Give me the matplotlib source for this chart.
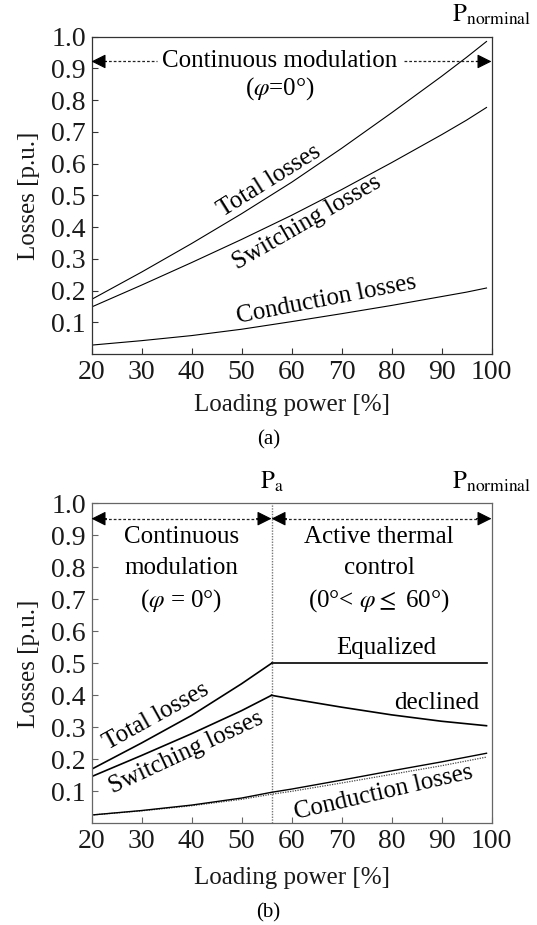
import matplotlib
matplotlib.use("Agg")
import matplotlib.pyplot as plt

plt.rcParams['font.family'] = ['Liberation Serif', 'DejaVu Serif']
plt.rcParams['mathtext.fontset'] = 'stix'

# (a) continuous modulation
load_a = [20, 30, 40, 50, 60, 70, 80, 90, 95, 99]
total_a = [0.172, 0.258, 0.348, 0.442, 0.541, 0.648, 0.760, 0.875, 0.935, 0.985]
switch_a = [0.148, 0.217, 0.288, 0.361, 0.437, 0.518, 0.603, 0.691, 0.737, 0.777]
cond_a = [0.028, 0.042, 0.058, 0.078, 0.102, 0.127, 0.153, 0.181, 0.195, 0.208]

# (b) with active thermal control above Pa
p_a = 56
load_b1 = [20, 30, 40, 50, 56]
total_b1 = [0.169, 0.251, 0.337, 0.436, 0.500]
switch_b1 = [0.146, 0.212, 0.280, 0.352, 0.400]
load_b2 = [56, 60, 70, 80, 90, 99]
total_b2 = [0.500, 0.500, 0.500, 0.500, 0.500, 0.500]
switch_b2 = [0.400, 0.389, 0.363, 0.339, 0.319, 0.305]
load_bc = [20, 30, 40, 50, 56, 60, 70, 80, 90, 99]
cond_b = [0.026, 0.040, 0.057, 0.079, 0.097, 0.107, 0.135, 0.164, 0.192, 0.219]
cond_b_ref = [0.026, 0.039, 0.055, 0.075, 0.091, 0.100, 0.126, 0.153, 0.180, 0.207]

xticks = [20, 30, 40, 50, 60, 70, 80, 90, 100]
yticks = [0.1, 0.2, 0.3, 0.4, 0.5, 0.6, 0.7, 0.8, 0.9, 1.0]

TICK_FS = 20
LAB_FS = 18
TXT_FS = 18

fig = plt.figure(figsize=(5.37, 9.25), dpi=100)
ax1 = fig.add_axes([0.1704, 0.6173, 0.7449, 0.343])
ax2 = fig.add_axes([0.1704, 0.1099, 0.7449, 0.346])


def style_axes(ax, spine_col, xlab_y):
    ax.set_xlim(20, 100)
    ax.set_ylim(0, 1.0)
    ax.set_xticks(xticks)
    ax.set_yticks(yticks)
    ax.set_yticklabels(['%.1f' % v for v in yticks])
    ax.tick_params(direction='in', length=4, width=0.8, colors=spine_col,
                   labelcolor='#1a1a1a', labelsize=TICK_FS, pad=4)
    for s in ax.spines.values():
        s.set_color(spine_col)
        s.set_linewidth(0.9)
    ax.set_xlabel('Loading power [%]', fontsize=LAB_FS, color='#1a1a1a')
    ax.set_ylabel('Losses [p.u.]', fontsize=LAB_FS, color='#1a1a1a')
    ax.xaxis.set_label_coords(0.5, xlab_y)
    ax.yaxis.set_label_coords(-0.128, 0.5)


def arrow_head(ax, x_tip, x_from, y):
    ax.annotate('', xy=(x_tip, y), xytext=(x_from, y),
                arrowprops=dict(arrowstyle='-|>', mutation_scale=22, color='k', lw=0.8,
                                shrinkA=0, shrinkB=0))


dash = (0, (2.2, 1.6))

# ---- panel (a)
style_axes(ax1, '#333333', -0.125)
ax1.plot(load_a, total_a, color='k', lw=0.8)
ax1.plot(load_a, switch_a, color='k', lw=0.8)
ax1.plot(load_a, cond_a, color='k', lw=0.8)

y_arr = 0.922
ax1.plot([21.5, 33.0], [y_arr, y_arr], color='#222222', lw=0.9, linestyle=dash)
ax1.plot([82.5, 98.5], [y_arr, y_arr], color='#222222', lw=0.9, linestyle=dash)
arrow_head(ax1, 20, 23, y_arr)
arrow_head(ax1, 100, 97, y_arr)
ax1.text(57.7, y_arr, 'Continuous modulation', ha='center', va='center', fontsize=TXT_FS)
ax1.text(57.7, 0.835, r'($\varphi$=0°)', ha='center', va='center', fontsize=TXT_FS)

ax1.text(55.5, 0.545, 'Total losses', rotation=32, rotation_mode='anchor',
         ha='center', va='center', fontsize=TXT_FS)
ax1.text(63.0, 0.415, 'Switching losses', rotation=30, rotation_mode='anchor',
         ha='center', va='center', fontsize=TXT_FS)
ax1.text(67.0, 0.170, 'Conduction losses', rotation=11, rotation_mode='anchor',
         ha='center', va='center', fontsize=TXT_FS)
ax1.text(100, 1.03, r'$\mathrm{P}_{\mathrm{norminal}}$', ha='center', va='bottom',
         fontsize=TXT_FS)
fig.text(0.5, 1 - 440 / 925, '(a)', ha='center', va='center', fontsize=15)

# ---- panel (b)
style_axes(ax2, '#666666', -0.135)
ax2.axvline(p_a, color='#777777', lw=1.0, linestyle=(0, (1, 1)))
ax2.plot(load_b1, total_b1, color='k', lw=1.2)
ax2.plot(load_b1, switch_b1, color='k', lw=1.2)
ax2.plot(load_b2, total_b2, color='k', lw=1.2)
ax2.plot(load_b2, switch_b2, color='k', lw=1.2)
ax2.plot(load_bc, cond_b_ref, color='#444444', lw=0.9, linestyle=(0, (1, 1)))
ax2.plot(load_bc, cond_b, color='k', lw=1.0)

y_arr2 = 0.952
ax2.plot([21.5, p_a - 1.5], [y_arr2, y_arr2], color='#222222', lw=0.9, linestyle=dash)
ax2.plot([p_a + 1.5, 98.5], [y_arr2, y_arr2], color='#222222', lw=0.9, linestyle=dash)
arrow_head(ax2, 20, 23, y_arr2)
arrow_head(ax2, p_a, p_a - 3, y_arr2)
arrow_head(ax2, p_a, p_a + 3, y_arr2)
arrow_head(ax2, 100, 97, y_arr2)

ax2.text(38, 0.895, 'Continuous', ha='center', va='center', fontsize=TXT_FS)
ax2.text(38, 0.797, 'modulation', ha='center', va='center', fontsize=TXT_FS)
ax2.text(38, 0.697, r'($\varphi$ = 0°)', ha='center', va='center', fontsize=TXT_FS)
ax2.text(77.5, 0.895, 'Active thermal', ha='center', va='center', fontsize=TXT_FS)
ax2.text(77.5, 0.797, 'control', ha='center', va='center', fontsize=TXT_FS)
ax2.text(77.5, 0.697, r'(0°< $\varphi$$\leq$ 60°)', ha='center', va='center', fontsize=TXT_FS)

ax2.text(79, 0.547, 'Equalized', ha='center', va='center', fontsize=TXT_FS)
ax2.text(89, 0.375, 'declined', ha='center', va='center', fontsize=TXT_FS)
ax2.text(33, 0.335, 'Total losses', rotation=29, rotation_mode='anchor',
         ha='center', va='center', fontsize=TXT_FS)
ax2.text(39, 0.222, 'Switching losses', rotation=25, rotation_mode='anchor',
         ha='center', va='center', fontsize=TXT_FS)
ax2.text(78.5, 0.095, 'Conduction losses', rotation=13, rotation_mode='anchor',
         ha='center', va='center', fontsize=TXT_FS)
ax2.text(p_a, 1.03, r'$\mathrm{P}_{\mathrm{a}}$', ha='center', va='bottom', fontsize=TXT_FS)
ax2.text(100, 1.03, r'$\mathrm{P}_{\mathrm{norminal}}$', ha='center', va='bottom',
         fontsize=TXT_FS)
fig.text(0.5, 1 - 913 / 925, '(b)', ha='center', va='center', fontsize=15)

fig.savefig('out.png', dpi=100)
